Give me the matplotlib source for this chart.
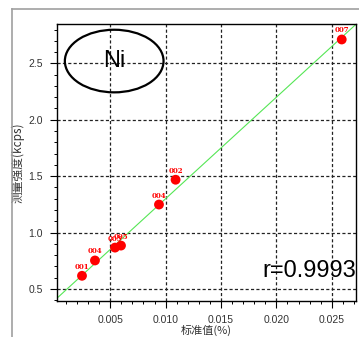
import matplotlib.pyplot as plt
import numpy as np
from matplotlib.patches import Ellipse
from matplotlib.lines import Line2D
from matplotlib.ticker import MultipleLocator, FormatStrFormatter

# 标准值 / 测量强度
std_val = [0.00245, 0.00362, 0.00543, 0.00597, 0.0094, 0.0109, 0.0259]
intensity = [0.616, 0.752, 0.866, 0.884, 1.248, 1.468, 2.712]
labels = ['001', '004', '003', '005', '004', '002', '007']

# regression line
slope = 90.0
intercept = 0.40
r_value = 0.9993

plt.rcParams['font.family'] = ['Noto Sans CJK SC', 'DejaVu Sans']

fig = plt.figure(figsize=(3.59, 3.37), dpi=100)
ax = fig.add_axes([0.159, 0.107, 0.833, 0.822])

# grey panel frame
fig.add_artist(Line2D([12/359, 1], [1 - 9/337, 1 - 9/337], color='#a0a0a0', lw=1.2))
fig.add_artist(Line2D([12/359, 12/359], [0, 1 - 9/337], color='#a0a0a0', lw=1.2))

xlim = (0.0002, 0.0272)
ylim = (0.393, 2.85)
ax.set_xlim(*xlim)
ax.set_ylim(*ylim)

xx = np.array([0.0, 0.03])
ax.plot(xx, slope * xx + intercept, color='#55e655', lw=0.8, zorder=2)

ax.scatter(std_val, intensity, s=50, color='red', zorder=3, edgecolors='none')
for x, y, t in zip(std_val, intensity, labels):
    ax.annotate(t, (x, y), xytext=(0, 6.5), textcoords='offset points',
                ha='center', va='center', color='red', fontsize=5,
                family='DejaVu Serif', fontweight='bold')

ax.xaxis.set_major_locator(MultipleLocator(0.005))
ax.xaxis.set_minor_locator(MultipleLocator(0.001))
ax.yaxis.set_major_locator(MultipleLocator(0.5))
ax.yaxis.set_minor_locator(MultipleLocator(0.1))
ax.xaxis.set_major_formatter(FormatStrFormatter('%.3f'))
ax.yaxis.set_major_formatter(FormatStrFormatter('%.1f'))

ax.tick_params(which='major', direction='out', length=5, width=0.8, pad=5,
               labelsize=7.5, labelcolor='#333333')
ax.tick_params(which='minor', direction='out', length=2.5, width=0.7)
for lab in ax.get_xticklabels() + ax.get_yticklabels():
    lab.set_family('Liberation Sans')

ax.grid(True, which='major', color='#222222', lw=0.9, linestyle=(0, (2.5, 1.8)))
for s in ax.spines.values():
    s.set_linewidth(1.0)

ax.set_xlabel('标准值(%)', fontsize=8, labelpad=0, color='#333333')
ax.set_ylabel('测量强度(kcps)', fontsize=8.5, labelpad=3, color='#333333')

ax.add_patch(Ellipse((0.191, 0.866), 0.33, 0.226, transform=ax.transAxes,
                     fill=False, edgecolor='black', lw=1.6, zorder=4))
ax.text(0.191, 0.866, 'Ni', transform=ax.transAxes, ha='center', va='center',
        fontsize=17, family='Liberation Sans', zorder=5)
ax.text(1.0, 0.108, 'r=%.4f' % r_value, transform=ax.transAxes, ha='right',
        va='center', fontsize=17, family='Liberation Sans', zorder=5)

fig.savefig('out.png', dpi=100)
